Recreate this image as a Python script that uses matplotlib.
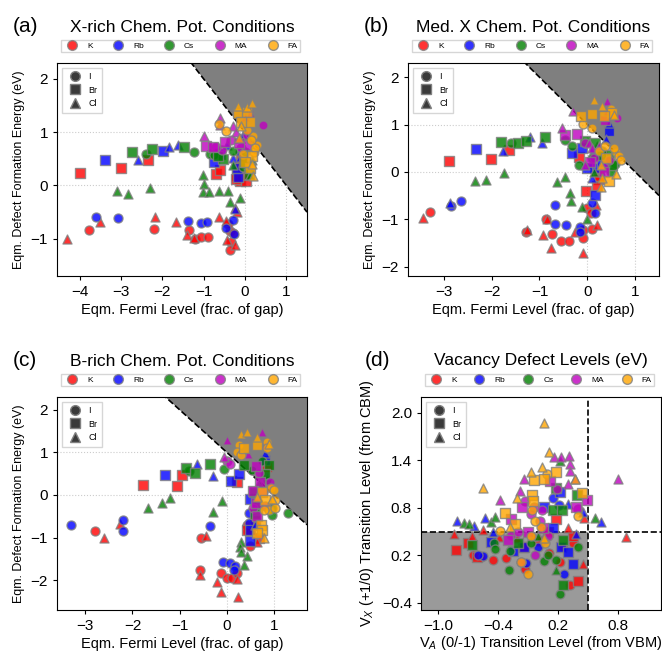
import numpy as np
import matplotlib
matplotlib.use("Agg")
import matplotlib.pyplot as plt
from matplotlib.lines import Line2D

plt.rcParams['font.family'] = ['Liberation Sans', 'DejaVu Sans']
plt.rcParams['mathtext.fontset'] = 'custom'
plt.rcParams['mathtext.rm'] = 'Liberation Sans'
plt.rcParams['mathtext.it'] = 'Liberation Sans:italic'

cations = ["K", "Rb", "Cs", "MA", "FA"]
cation_colors = ["red", "blue", "green", "m", "orange"]
anions = ["I", "Br", "Cl"]
anion_markers = ["o", "s", "^"]

# (a) X-rich: (fermi level, formation energy, anion)
a_K = [(-3.77, -0.84, 'I'), (-2.2, -0.81, 'I'), (-1.36, -0.83, 'I'), (-1.2, -1.0, 'I'), (-1.07, -0.97, 'I'),
       (-0.89, -0.96, 'I'), (-0.36, -0.86, 'I'), (-0.34, -1.06, 'I'), (-0.36, -1.21, 'I'), (-0.42, -0.72, 'I'),
       (-0.3, -0.9, 'I'),
       (-4.0, 0.24, 'Br'), (-3.0, 0.32, 'Br'), (-2.35, 0.47, 'Br'), (-0.71, 0.21, 'Br'), (-0.6, 0.29, 'Br'),
       (-0.2, 0.19, 'Br'), (-0.13, 0.08, 'Br'), (0.03, 0.08, 'Br'), (-0.07, 0.19, 'Br'), (-0.22, 0.12, 'Br'),
       (-0.1, 0.5, 'Br'),
       (-4.3, -1.0, 'Cl'), (-3.52, -0.68, 'Cl'), (-2.17, -0.6, 'Cl'), (-1.67, -0.69, 'Cl'), (-1.41, -0.93, 'Cl'),
       (-1.23, -0.98, 'Cl'), (-0.63, -0.59, 'Cl'), (-0.24, -0.42, 'Cl'), (-0.2, -0.49, 'Cl'), (-0.44, -1.03, 'Cl'),
       (-0.25, -1.11, 'Cl'), (-0.45, -0.66, 'Cl'), (-0.16, 0.41, 'Cl')]
a_Rb = [(-3.6, -0.6, 'I'), (-3.08, -0.62, 'I'), (-1.37, -0.67, 'I'), (-1.06, -0.71, 'I'), (-0.93, -0.68, 'I'),
        (-0.47, -0.8, 'I'), (-0.28, -0.65, 'I'), (-0.27, -0.92, 'I'), (-0.12, 0.62, 'I'),
        (-3.39, 0.48, 'Br'), (-1.98, 0.64, 'Br'), (-0.76, 0.45, 'Br'), (-0.16, 0.15, 'Br'), (-0.2, 0.32, 'Br'),
        (-0.6, 0.6, 'Br'),
        (-2.58, 0.47, 'Cl'), (-1.83, 0.73, 'Cl'), (-1.62, 0.76, 'Cl'), (-0.44, 0.76, 'Cl'), (-0.3, 0.51, 'Cl'),
        (-0.12, 0.54, 'Cl'), (-0.13, 0.89, 'Cl'), (-0.06, 0.94, 'Cl'), (-0.25, -0.45, 'Cl')]
a_Cs = [(-2.4, 0.59, 'I'), (-1.23, 0.62, 'I'), (-0.84, 0.6, 'I'), (-0.76, 0.57, 'I'), (-0.28, 0.64, 'I'),
        (0.0, 0.63, 'I'), (-0.05, 0.35, 'I'),
        (-2.74, 0.63, 'Br'), (-2.24, 0.69, 'Br'), (-1.48, 0.72, 'Br'), (-0.54, 0.5, 'Br'), (-0.65, 0.55, 'Br'),
        (-0.02, 0.45, 'Br'), (0.1, 0.22, 'Br'),
        (-3.09, -0.1, 'Cl'), (-2.84, -0.16, 'Cl'), (-2.3, -0.04, 'Cl'), (-1.01, 0.19, 'Cl'), (-1.0, 0.03, 'Cl'),
        (-1.01, -0.12, 'Cl'), (-0.86, -0.12, 'Cl'), (-0.62, -0.11, 'Cl'), (-0.41, -0.11, 'Cl'), (-0.37, -0.31, 'Cl'),
        (-0.12, -0.23, 'Cl'), (0.12, 0.19, 'Cl'), (0.17, 0.48, 'Cl'), (-0.3, 0.38, 'Cl')]
a_MA = [(-0.56, 0.67, 'I'), (-0.71, 0.73, 'I'), (0.43, 1.14, 'I'), (-0.35, 0.85, 'I'), (-0.1, 0.7, 'I'),
        (0.05, 0.95, 'I'),
        (-0.94, 0.75, 'Br'), (-0.48, 0.82, 'Br'), (0.04, 0.76, 'Br'), (-0.15, 0.8, 'Br'), (-0.78, 0.72, 'Br'),
        (-1.0, 0.92, 'Cl'), (-0.6, 1.26, 'Cl'), (-0.6, 1.13, 'Cl'), (-0.29, 1.12, 'Cl'), (-0.23, 1.0, 'Cl'),
        (0.1, 1.45, 'Cl'), (0.11, 1.36, 'Cl'), (0.0, 1.28, 'Cl')]
a_FA = [(-0.47, 1.02, 'I'), (-0.62, 1.15, 'I'), (0.19, 0.92, 'I'), (0.21, 0.63, 'I'), (0.29, 0.76, 'I'),
        (0.15, 0.85, 'I'), (0.05, 1.05, 'I'), (0.25, 0.7, 'I'), (-0.05, 0.6, 'I'),
        (-0.18, 1.36, 'Br'), (0.06, 1.38, 'Br'), (0.12, 1.2, 'Br'), (0.12, 0.32, 'Br'), (-0.1, 1.2, 'Br'),
        (0.16, 0.55, 'Br'), (0.0, 0.45, 'Br'),
        (-0.16, 1.5, 'Cl'), (0.05, 1.48, 'Cl'), (0.17, 1.55, 'Cl'), (0.19, 0.17, 'Cl'), (-0.1, 1.12, 'Cl'),
        (0.18, 0.4, 'Cl'), (-0.15, 0.9, 'Cl')]

# (b) Medium X
b_K = [(-3.28, -0.84, 'I'), (-1.28, -1.27, 'I'), (-0.86, -0.99, 'I'), (-0.74, -1.32, 'I'), (-0.54, -1.45, 'I'),
       (-0.39, -1.45, 'I'), (-0.08, -1.4, 'I'), (-0.1, -1.22, 'I'), (0.0, -0.77, 'I'), (0.07, -0.87, 'I'),
       (0.09, -1.2, 'I'),
       (-2.89, 0.24, 'Br'), (-2.01, 0.27, 'Br'), (-1.63, 0.47, 'Br'), (-0.18, 0.32, 'Br'), (-0.02, -0.4, 'Br'),
       (0.24, -0.06, 'Br'), (0.24, -0.16, 'Br'), (0.2, -0.3, 'Br'),
       (-3.44, -0.98, 'Cl'), (-1.26, -1.22, 'Cl'), (-0.84, -0.99, 'Cl'), (-0.93, -1.33, 'Cl'), (-0.75, -1.6, 'Cl'),
       (-0.25, -1.26, 'Cl'), (-0.09, -1.72, 'Cl'), (0.21, -1.12, 'Cl'), (0.18, -0.7, 'Cl')]
b_Rb = [(-2.86, -0.72, 'I'), (-2.64, -0.61, 'I'), (-0.68, -0.69, 'I'), (-0.68, -1.1, 'I'), (-0.44, -1.12, 'I'),
        (-0.16, -1.17, 'I'), (-0.15, -1.27, 'I'), (0.16, -0.87, 'I'), (0.1, -0.66, 'I'),
        (-2.33, 0.49, 'Br'), (-0.33, 0.4, 'Br'), (-0.12, 0.5, 'Br'), (0.45, 0.86, 'Br'), (0.17, 0.4, 'Br'),
        (0.17, 0.08, 'Br'), (0.0, 0.08, 'Br'), (0.17, -0.48, 'Br'), (0.3, 0.2, 'Br'),
        (-2.88, -0.65, 'Cl'), (-1.76, 0.45, 'Cl'), (-1.2, 0.73, 'Cl'), (-0.95, 0.61, 'Cl'), (0.45, 1.03, 'Cl'),
        (0.1, -0.13, 'Cl'), (0.4, 0.7, 'Cl'), (0.2, 0.55, 'Cl')]
b_Cs = [(-1.6, 0.6, 'I'), (-0.46, 0.68, 'I'), (-0.33, 0.54, 'I'), (-0.18, 0.15, 'I'), (0.58, 0.16, 'I'),
        (0.5, 0.0, 'I'), (0.3, 0.45, 'I'), (0.1, 0.3, 'I'),
        (-1.81, 0.64, 'Br'), (-1.44, 0.62, 'Br'), (-1.28, 0.65, 'Br'), (-0.89, 0.74, 'Br'), (-0.04, 0.66, 'Br'),
        (0.17, 0.61, 'Br'), (0.45, 0.36, 'Br'), (0.52, 0.15, 'Br'), (0.29, 0.36, 'Br'),
        (-2.35, -0.19, 'Cl'), (-2.12, -0.17, 'Cl'), (-1.75, -0.03, 'Cl'), (-0.64, -0.22, 'Cl'), (-0.47, -0.1, 'Cl'),
        (-0.36, -0.45, 'Cl'), (-0.35, -0.61, 'Cl'), (-0.11, -0.75, 'Cl'), (0.0, -1.0, 'Cl'), (0.15, 0.0, 'Cl')]
b_MA = [(0.63, 1.14, 'I'), (0.34, 0.1, 'I'), (0.15, 0.3, 'I'), (0.45, 0.25, 'I'), (-0.05, 0.6, 'I'),
        (-0.46, 0.77, 'Br'), (-0.21, 0.8, 'Br'), (0.38, 1.1, 'Br'), (0.05, 0.2, 'Br'), (0.35, 0.0, 'Br'),
        (-0.3, 1.28, 'Cl'), (-0.52, 0.93, 'Cl'), (0.42, 1.49, 'Cl'), (0.42, 1.28, 'Cl'), (0.03, 0.61, 'Cl'),
        (-0.04, 0.15, 'Cl'), (0.1, 0.5, 'Cl'), (0.25, 0.55, 'Cl')]
b_FA = [(-0.1, 1.01, 'I'), (0.49, 1.32, 'I'), (0.53, 1.2, 'I'), (0.1, 0.93, 'I'), (0.6, 0.43, 'I'),
        (0.67, 0.33, 'I'), (0.7, 0.26, 'I'), (0.24, 0.45, 'I'), (0.38, 0.54, 'I'), (0.55, 0.5, 'I'),
        (0.1, 1.23, 'Br'), (-0.14, 1.17, 'Br'), (0.51, 1.25, 'Br'), (0.35, 1.17, 'Br'), (0.46, -0.2, 'Br'),
        (0.4, 0.3, 'Br'),
        (0.14, 1.51, 'Cl'), (0.31, 1.39, 'Cl'), (0.28, 0.15, 'Cl'), (0.6, -0.04, 'Cl'), (0.28, -0.31, 'Cl'),
        (0.3, -0.14, 'Cl'), (0.55, 1.2, 'Cl')]

# (c) B-rich
c_K = [(-2.79, -0.84, 'I'), (-0.54, -1.0, 'I'), (-0.57, -1.77, 'I'), (-0.13, -1.83, 'I'), (0.01, -1.96, 'I'),
       (0.11, -1.96, 'I'), (0.22, -1.84, 'I'), (0.43, -0.7, 'I'), (0.5, -1.2, 'I'), (0.45, -0.85, 'I'),
       (-1.78, 0.23, 'Br'), (-1.05, 0.22, 'Br'), (-0.95, 0.48, 'Br'), (0.22, 0.3, 'Br'), (0.86, 0.66, 'Br'),
       (0.43, -0.82, 'Br'), (0.68, -1.01, 'Br'), (0.6, -0.6, 'Br'),
       (-2.61, -1.0, 'Cl'), (-2.27, -0.69, 'Cl'), (-0.45, -0.97, 'Cl'), (-0.56, -1.88, 'Cl'), (-0.2, -2.04, 'Cl'),
       (-0.13, -2.27, 'Cl'), (0.24, -2.39, 'Cl'), (0.22, -1.98, 'Cl'), (0.65, -0.66, 'Cl'), (0.65, -1.1, 'Cl')]
c_Rb = [(-3.3, -0.7, 'I'), (-2.21, -0.59, 'I'), (-2.21, -0.84, 'I'), (-0.36, -0.72, 'I'), (-0.08, -1.57, 'I'),
        (0.07, -1.59, 'I'), (0.18, -1.66, 'I'), (0.15, -1.75, 'I'), (0.47, -0.43, 'I'), (0.47, -0.66, 'I'),
        (-1.32, 0.48, 'Br'), (0.08, 0.33, 'Br'), (0.26, 0.5, 'Br'), (0.5, -0.1, 'Br'), (0.82, 0.82, 'Br'),
        (0.5, -0.82, 'Br'), (0.5, -1.09, 'Br'),
        (-0.64, 0.72, 'Cl'), (-0.29, 0.45, 'Cl'), (0.82, 0.98, 'Cl'), (0.86, 0.43, 'Cl'), (0.6, -0.7, 'Cl')]
c_Cs = [(-0.8, 0.56, 'I'), (-0.05, 0.62, 'I'), (0.54, 0.59, 'I'), (1.3, -0.42, 'I'), (0.96, -0.31, 'I'),
        (0.96, -0.47, 'I'), (0.85, 0.35, 'I'), (0.75, 0.8, 'I'),
        (-0.86, 0.63, 'Br'), (-0.68, 0.52, 'Br'), (-0.35, 0.72, 'Br'), (0.36, 0.7, 'Br'), (0.58, 0.08, 'Br'),
        (0.89, 0.7, 'Br'), (0.65, -0.23, 'Br'), (0.8, 0.5, 'Br'), (0.6, -0.45, 'Br'),
        (-1.67, -0.3, 'Cl'), (-1.37, -0.18, 'Cl'), (-1.21, -0.06, 'Cl'), (-0.1, -0.13, 'Cl'), (-0.29, -0.4, 'Cl'),
        (0.31, -1.1, 'Cl'), (0.29, -1.22, 'Cl'), (0.43, -1.44, 'Cl'), (0.36, -1.65, 'Cl'), (0.68, 0.28, 'Cl'),
        (0.3, -1.35, 'Cl')]
c_MA = [(0.01, 0.8, 'I'), (0.07, 0.73, 'I'), (0.68, 0.51, 'I'), (0.77, 0.06, 'I'), (0.82, -0.27, 'I'),
        (0.92, 0.31, 'I'), (0.55, -0.3, 'I'),
        (0.61, 0.67, 'Br'), (0.61, -0.19, 'Br'), (0.65, -0.5, 'Br'), (0.7, 0.3, 'Br'), (0.55, 0.1, 'Br'),
        (0.0, 1.28, 'Cl'), (0.45, 0.97, 'Cl'), (0.82, 1.17, 'Cl'), (0.75, 1.48, 'Cl'), (-0.05, 0.9, 'Cl')]
c_FA = [(0.25, 1.17, 'I'), (0.22, 1.02, 'I'), (0.86, 1.25, 'I'), (0.93, 0.16, 'I'), (0.99, 0.12, 'I'),
        (1.03, -0.11, 'I'), (0.89, -0.35, 'I'), (0.79, -0.35, 'I'), (1.03, -0.3, 'I'), (0.3, 0.95, 'I'),
        (0.85, 1.1, 'I'),
        (0.36, 1.1, 'Br'), (0.64, 1.17, 'Br'), (0.75, 0.08, 'Br'), (0.82, -0.11, 'Br'), (0.72, -0.7, 'Br'),
        (0.75, -0.82, 'Br'), (0.65, -0.9, 'Br'),
        (0.31, 1.43, 'Cl'), (0.43, 1.48, 'Cl'), (0.64, 1.37, 'Cl'), (0.79, -1.01, 'Cl'), (0.65, -0.04, 'Cl'),
        (0.9, 1.2, 'Cl'), (0.95, -0.1, 'Cl')]

# (d) vacancy levels: (V_A (0/-1) from VBM, V_X (+1/0) from CBM, anion)
d_K = [(-0.57, 0.18, 'I'), (-0.45, 0.14, 'I'), (-0.32, 0.17, 'I'), (-0.13, 0.03, 'I'), (0.11, 0.23, 'I'),
       (0.22, 0.12, 'I'), (0.32, -0.18, 'I'), (-0.65, 0.2, 'I'), (0.05, 0.4, 'I'), (0.25, 0.3, 'I'),
       (0.35, 0.35, 'I'),
       (-0.82, 0.27, 'Br'), (-0.7, 0.35, 'Br'), (-0.61, 0.18, 'Br'), (0.4, -0.12, 'Br'), (0.18, 0.66, 'Br'),
       (0.0, 0.38, 'Br'), (0.35, 0.45, 'Br'), (0.1, 0.5, 'Br'), (-0.15, 0.3, 'Br'),
       (0.88, 0.43, 'Cl'), (-0.84, 0.47, 'Cl'), (-0.66, 0.45, 'Cl'), (-0.39, 0.43, 'Cl'), (-0.21, 0.42, 'Cl'),
       (0.45, 0.09, 'Cl'), (0.46, 0.67, 'Cl'), (-0.05, 0.45, 'Cl'), (0.3, 0.55, 'Cl'), (-0.55, 0.52, 'Cl')]
d_Rb = [(-0.55, 0.19, 'I'), (-0.12, 0.1, 'I'), (0.26, -0.03, 'I'), (0.15, 0.93, 'I'), (0.21, 0.83, 'I'),
        (-0.6, 0.2, 'I'), (0.0, 0.3, 'I'),
        (-0.47, 0.37, 'Br'), (-0.25, 0.25, 'Br'), (-0.14, 0.3, 'Br'), (0.23, 0.3, 'Br'), (0.3, 0.24, 'Br'),
        (0.35, 0.09, 'Br'), (0.22, 1.0, 'Br'), (0.06, 0.81, 'Br'), (0.15, 0.55, 'Br'),
        (-0.81, 0.63, 'Cl'), (-0.64, 0.57, 'Cl'), (-0.53, 0.67, 'Cl'), (0.38, 0.47, 'Cl'), (0.45, 0.75, 'Cl'),
        (0.63, 0.62, 'Cl'), (0.3, 0.85, 'Cl'), (-0.45, 0.5, 'Cl')]
d_Cs = [(-0.44, 0.35, 'I'), (-0.43, 0.28, 'I'), (-0.28, 0.26, 'I'), (-0.29, 0.01, 'I'), (-0.07, 0.35, 'I'),
        (0.06, 0.13, 'I'), (0.18, 0.14, 'I'), (0.4, 0.3, 'I'), (0.22, -0.29, 'I'), (0.1, 0.2, 'I'),
        (-0.66, 0.33, 'Br'), (0.25, 0.4, 'Br'), (0.25, -0.18, 'Br'), (0.18, 1.05, 'Br'), (0.39, 0.96, 'Br'),
        (0.15, 0.77, 'Br'), (0.24, 0.77, 'Br'), (-0.2, 0.35, 'Br'),
        (-0.74, 0.61, 'Cl'), (-0.69, 0.59, 'Cl'), (-0.47, 0.62, 'Cl'), (-0.43, 0.68, 'Cl'), (0.57, 0.67, 'Cl'),
        (0.18, 0.01, 'Cl'), (0.22, 1.39, 'Cl'), (0.0, 0.45, 'Cl')]
d_MA = [(-0.27, 0.46, 'I'), (-0.17, 0.11, 'I'), (-0.03, 0.2, 'I'), (0.19, 1.04, 'I'), (-0.13, 0.89, 'I'),
        (-0.04, 0.81, 'I'), (0.04, 0.77, 'I'), (0.4, 0.79, 'I'), (-0.07, 0.72, 'I'), (0.02, 0.64, 'I'),
        (-0.2, 0.5, 'I'), (0.1, 0.45, 'I'),
        (0.12, 1.14, 'Br'), (0.49, 0.9, 'Br'), (-0.27, 0.66, 'Br'), (0.38, 0.81, 'Br'), (-0.16, 0.81, 'Br'),
        (-0.1, 0.5, 'Br'), (0.05, 0.55, 'Br'), (-0.3, 0.4, 'Br'),
        (0.8, 1.16, 'Cl'), (0.16, 1.44, 'Cl'), (0.23, 1.44, 'Cl'), (0.31, 1.46, 'Cl'), (0.32, 1.36, 'Cl'),
        (0.32, 1.27, 'Cl'), (-0.14, 1.17, 'Cl'), (-0.18, 1.01, 'Cl'), (-0.38, 0.9, 'Cl'), (0.37, 1.16, 'Cl'),
        (0.3, 1.1, 'Cl')]
d_FA = [(-0.38, 0.51, 'I'), (0.09, 1.23, 'I'), (-0.1, -0.04, 'I'), (-0.07, 0.45, 'I'), (0.03, 0.56, 'I'),
        (0.07, 0.35, 'I'), (-0.06, 0.77, 'I'), (-0.17, 0.11, 'I'), (-0.03, 0.64, 'I'), (0.4, 0.7, 'I'),
        (-0.33, 0.73, 'Br'), (-0.23, 0.59, 'Br'), (-0.04, 1.15, 'Br'), (0.06, 1.16, 'Br'), (0.18, 1.25, 'Br'),
        (-0.06, 0.96, 'Br'), (0.44, 0.99, 'Br'), (-0.05, 0.89, 'Br'),
        (0.06, 1.87, 'Cl'), (0.11, 1.51, 'Cl'), (-0.55, 1.05, 'Cl'), (0.37, 1.17, 'Cl'), (-0.07, 1.25, 'Cl'),
        (-0.21, 0.93, 'Cl'), (-0.28, 0.56, 'Cl'), (0.06, 0.42, 'Cl'), (0.04, 1.31, 'Cl')]

panel_data = {
    "a": [a_K, a_Rb, a_Cs, a_MA, a_FA],
    "b": [b_K, b_Rb, b_Cs, b_MA, b_FA],
    "c": [c_K, c_Rb, c_Cs, c_MA, c_FA],
    "d": [d_K, d_Rb, d_Cs, d_MA, d_FA],
}


def scatter_groups(ax, groups):
    for pts, color in zip(groups, cation_colors):
        for anion, marker in zip(anions, anion_markers):
            sel = [(x, y) for x, y, an in pts if an == anion]
            if not sel:
                continue
            xs, ys = zip(*sel)
            ax.scatter(xs, ys, c=color, marker=marker, s=42, alpha=0.8,
                       edgecolors='gray', linewidths=1.0, zorder=3)


def add_legends(ax):
    handles = [Line2D([], [], marker='o', ls='none', color=c, markeredgecolor='gray',
                      markersize=7, alpha=0.8) for c in cation_colors]
    leg = ax.legend(handles, cations, loc='lower left', bbox_to_anchor=(0.0, 1.03, 0.99, 0.06),
                    mode='expand', ncol=5, fontsize=6, handletextpad=0.8, borderpad=0.3,
                    frameon=True, fancybox=False, edgecolor='#cccccc')
    ax.add_artist(leg)
    h2 = [Line2D([], [], marker=m, ls='none', color='#3a3a3a', markeredgecolor='gray',
                 markersize=7) for m in anion_markers]
    ax.legend(h2, anions, loc='upper left', fontsize=6.5, handletextpad=0.5, borderpad=0.5,
              labelspacing=0.5, fancybox=False, edgecolor='#cccccc')


fig = plt.figure(figsize=(6.62, 6.54), dpi=100)
W, H = 662, 654


def axes_px(l, t, r, b):
    return fig.add_axes([l / W, 1 - b / H, (r - l) / W, (b - t) / H])


fermi_panels = [
    ("a", "X-rich Chem. Pot. Conditions", (57, 63, 307, 276), (-4.55, 1.5), (-1.7, 2.3),
     [-4, -3, -2, -1, 0, 1], [-1, 0, 1, 2]),
    ("b", "Med. X Chem. Pot. Conditions", (408, 63, 659, 276), (-3.75, 1.5), (-2.2, 2.3),
     [-3, -2, -1, 0, 1], [-2, -1, 0, 1, 2]),
    ("c", "B-rich Chem. Pot. Conditions", (57, 397, 307, 610), (-3.6, 1.7), (-2.7, 2.3),
     [-3, -2, -1, 0, 1], [-2, -1, 0, 1, 2]),
]

for key, title, box, xlim, ylim, xt, yt in fermi_panels:
    ax = axes_px(*box)
    xx = np.linspace(xlim[0], xlim[1], 200)
    ax.fill_between(xx, 1 - xx, ylim[1] + 1, color='#7f7f7f', zorder=1, linewidth=0)
    ax.plot(xx, 1 - xx, 'k--', lw=1.2, zorder=2)
    for v in (0, 1):
        ax.axhline(v, color='#cccccc', ls=':', lw=0.8, zorder=0)
        ax.axvline(v, color='#cccccc', ls=':', lw=0.8, zorder=0)
    scatter_groups(ax, panel_data[key])
    ax.set_xlim(*xlim)
    ax.set_ylim(*ylim)
    ax.set_xticks(xt)
    ax.set_yticks(yt)
    ax.tick_params(labelsize=11, length=3)
    ax.set_xlabel("Eqm. Fermi Level (frac. of gap)", fontsize=10.5, labelpad=3)
    ax.set_ylabel("Eqm. Defect Formation Energy (eV)", fontsize=9)
    add_legends(ax)
    cx = (box[0] + box[2]) / 2 / W
    ty = 1 - (box[1] - 36) / H
    fig.text(cx, ty, title, ha='center', va='center', fontsize=12.5)
    fig.text((box[0] - 32) / W, ty, f"({key})", ha='center', va='center', fontsize=15)

# (d)
box = (421, 397, 661, 610)
ax = axes_px(*box)
ax.fill_between([-1.17, 0.5], -0.49, 0.5, color='#9a9a9a', zorder=1, linewidth=0)
ax.axvline(0.5, color='k', ls='--', lw=1.2, zorder=2)
ax.axhline(0.5, color='k', ls='--', lw=1.2, zorder=2)
scatter_groups(ax, panel_data["d"])
ax.set_xlim(-1.17, 1.23)
ax.set_ylim(-0.49, 2.2)
ax.set_xticks([-1.0, -0.4, 0.2, 0.8])
ax.set_yticks([-0.4, 0.2, 0.8, 1.4, 2.0])
ax.tick_params(labelsize=11, length=3)
ax.set_xlabel(r"V$_{A}$ (0/-1) Transition Level (from VBM)", fontsize=10.5, labelpad=1)
ax.set_ylabel(r"V$_{X}$ (+1/0) Transition Level (from CBM)", fontsize=10.5)
add_legends(ax)
ty = 1 - (box[1] - 36) / H
fig.text((box[0] + box[2]) / 2 / W, ty, "Vacancy Defect Levels (eV)", ha='center', va='center', fontsize=12.5)
fig.text(378 / W, ty, "(d)", ha='center', va='center', fontsize=15)

fig.savefig("out.png", dpi=100)
